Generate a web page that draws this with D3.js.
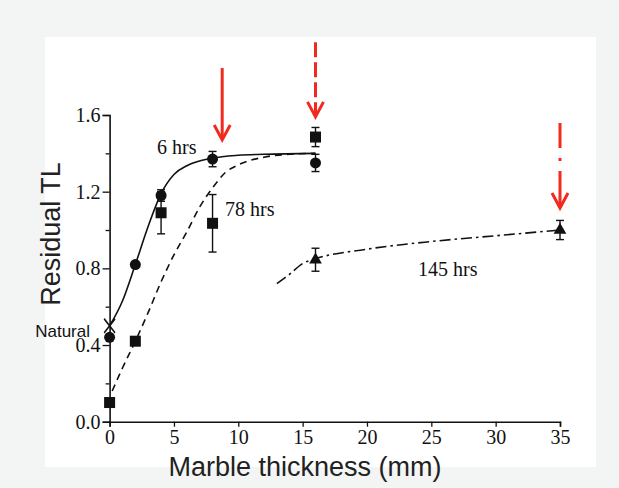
<!DOCTYPE html>
<html>
<head>
<meta charset="utf-8">
<script src="https://cdn.jsdelivr.net/npm/d3@7"></script>
<style>
  body { margin: 0; background: #f3f4f4; }
  svg { display: block; }
  .serif { font-family: "Liberation Serif", "Times New Roman", serif; }
  .sans { font-family: "Liberation Sans", Arial, sans-serif; }
</style>
</head>
<body>
<svg id="chart" width="619" height="488"></svg>
<script>
// measured points
var thick6 = [0, 2, 4, 8, 16];
var tl6 = [0.44, 0.82, 1.18, 1.37, 1.35];
var err6 = [0, 0, 0.03, 0.04, 0.045];

var thick78 = [0, 2, 4, 8, 16];
var tl78 = [0.10, 0.42, 1.09, 1.035, 1.485];
var err78 = [0, 0, 0.11, 0.15, 0.05];

var thick145 = [16, 35];
var tl145 = [0.845, 1.0];
var err145 = [0.06, 0.05];

var natural = { x: 0, y: 0.50 };

// fitted curves
var fit6x = [0, 1, 2, 3, 4, 5, 6, 8, 10, 12, 16];
var fit6y = [0.50, 0.63, 0.82, 1.02, 1.19, 1.29, 1.335, 1.375, 1.39, 1.395, 1.40];
var fit78x = [0.2, 1, 2, 3, 4, 5, 6, 7, 8, 9, 10, 12, 14, 16];
var fit78y = [0.16, 0.28, 0.42, 0.57, 0.73, 0.87, 0.99, 1.12, 1.22, 1.30, 1.34, 1.38, 1.395, 1.40];
var fit145x = [13, 14, 15, 16, 20, 25, 30, 35];
var fit145y = [0.72, 0.77, 0.825, 0.85, 0.90, 0.94, 0.97, 1.0];

var xTicks = [0, 5, 10, 15, 20, 25, 30, 35];
var yTicks = [0, 0.4, 0.8, 1.2, 1.6];
var yMinor = [0.2, 0.6, 1.0, 1.4];

// red arrows: x, top, tip, dash pattern
var arrowX = [8.75, 16, 35];
var arrowTop = [1.845, 1.98, 1.558];
var arrowTip = [1.47, 1.59, 1.115];
var arrowDash = [null, '15,5', '25,10,3,10,60'];

var svg = d3.select('#chart');

svg.append('rect')
	.attr('x', 45).attr('y', 37)
	.attr('width', 551).attr('height', 430)
	.attr('fill', '#fff');

var x = d3.scaleLinear().domain([0, 35]).range([109.6, 560]);
var y = d3.scaleLinear().domain([0, 1.6]).range([421.7, 115]);

// axes
var yAxis = svg.append('g')
	.attr('transform', 'translate(' + x(0) + ',0)')
	.call(d3.axisLeft(y).tickValues(yTicks).tickFormat(d3.format('.1f')).tickSize(7).tickPadding(2));
svg.append('g')
	.attr('transform', 'translate(' + x(0) + ',0)')
	.call(d3.axisLeft(y).tickValues(yMinor).tickFormat('').tickSize(4))
	.select('.domain').remove();
var xAxis = svg.append('g')
	.attr('transform', 'translate(0,' + y(0) + ')')
	.call(d3.axisBottom(x).tickValues(xTicks).tickSize(5).tickPadding(3));

svg.selectAll('.domain').attr('stroke', '#111').attr('stroke-width', 1.6);
svg.selectAll('.tick line').attr('stroke', '#111').attr('stroke-width', 1.3);
yAxis.selectAll('text').attr('class', 'serif').attr('font-size', 20).attr('fill', '#111');
xAxis.selectAll('text').attr('class', 'serif').attr('font-size', 20).attr('fill', '#111');

// fitted curves
var line = d3.line().x(d => x(d[0])).y(d => y(d[1])).curve(d3.curveMonotoneX);

svg.append('path')
	.datum(d3.zip(fit6x, fit6y))
	.attr('d', line)
	.attr('fill', 'none').attr('stroke', '#111').attr('stroke-width', 1.6);
svg.append('path')
	.datum(d3.zip(fit78x, fit78y))
	.attr('d', line)
	.attr('fill', 'none').attr('stroke', '#111').attr('stroke-width', 1.6)
	.attr('stroke-dasharray', '7,5');
svg.append('path')
	.datum(d3.zip(fit145x, fit145y))
	.attr('d', line)
	.attr('fill', 'none').attr('stroke', '#111').attr('stroke-width', 1.6)
	.attr('stroke-dasharray', '11,4,2.5,4');

// error bars
function errorBars(xs, ys, es) {
	var g = svg.append('g').attr('stroke', '#111').attr('stroke-width', 1.4);
	d3.zip(xs, ys, es).filter(d => d[2] > 0).forEach(d => {
		var cx = x(d[0]), top = y(d[1] + d[2]), bot = y(d[1] - d[2]);
		g.append('line').attr('x1', cx).attr('x2', cx).attr('y1', top).attr('y2', bot);
		g.append('line').attr('x1', cx - 4).attr('x2', cx + 4).attr('y1', top).attr('y2', top);
		g.append('line').attr('x1', cx - 4).attr('x2', cx + 4).attr('y1', bot).attr('y2', bot);
	});
}
errorBars(thick6, tl6, err6);
errorBars(thick78, tl78, err78);
errorBars(thick145, tl145, err145);

// markers
svg.append('g').selectAll('circle')
	.data(d3.zip(thick6, tl6))
	.enter().append('circle')
		.attr('cx', d => x(d[0])).attr('cy', d => y(d[1]))
		.attr('r', 5.5).attr('fill', '#111');

svg.append('g').selectAll('rect')
	.data(d3.zip(thick78, tl78))
	.enter().append('rect')
		.attr('x', d => x(d[0]) - 5.5).attr('y', d => y(d[1]) - 5.5)
		.attr('width', 11).attr('height', 11).attr('fill', '#111');

svg.append('g').selectAll('path')
	.data(d3.zip(thick145, tl145))
	.enter().append('path')
		.attr('transform', d => 'translate(' + x(d[0]) + ',' + y(d[1]) + ')')
		.attr('d', d3.symbol(d3.symbolTriangle, 70))
		.attr('fill', '#111');

svg.append('path')
	.attr('transform', 'translate(' + x(natural.x) + ',' + y(natural.y) + ') scale(1,1.3)')
	.attr('d', d3.symbol(d3.symbolX, 80))
	.attr('fill', 'none').attr('stroke', '#111').attr('stroke-width', 1.4);

// labels
svg.append('text').attr('class', 'serif').attr('x', 157).attr('y', 154)
	.attr('font-size', 20).attr('fill', '#111').text('6 hrs');
svg.append('text').attr('class', 'serif').attr('x', 225).attr('y', 216)
	.attr('font-size', 20).attr('fill', '#111').text('78 hrs');
svg.append('text').attr('class', 'serif').attr('x', 418).attr('y', 276)
	.attr('font-size', 20).attr('fill', '#111').text('145 hrs');
svg.append('text').attr('class', 'sans').attr('x', 90).attr('y', 337)
	.attr('text-anchor', 'end').attr('font-size', 17).attr('fill', '#111').text('Natural');

svg.append('text').attr('class', 'sans')
	.attr('x', 305).attr('y', 476)
	.attr('text-anchor', 'middle').attr('font-size', 27).attr('fill', '#222')
	.text('Marble thickness (mm)');
svg.append('text').attr('class', 'sans')
	.attr('transform', 'translate(60,234) rotate(-90)')
	.attr('text-anchor', 'middle').attr('font-size', 27).attr('fill', '#222')
	.text('Residual TL');

// red arrows
var red = '#f22a1e';
arrowX.forEach((ax, i) => {
	var cx = x(ax), top = y(arrowTop[i]), tip = y(arrowTip[i]);
	var shaft = svg.append('line')
		.attr('x1', cx).attr('x2', cx).attr('y1', top).attr('y2', tip - 2)
		.attr('stroke', red).attr('stroke-width', 3);
	if (arrowDash[i]) shaft.attr('stroke-dasharray', arrowDash[i]);
	svg.append('path')
		.attr('d', 'M' + (cx - 8) + ',' + (tip - 15) + 'L' + cx + ',' + tip + 'L' + (cx + 8) + ',' + (tip - 15))
		.attr('fill', 'none').attr('stroke', red).attr('stroke-width', 3)
		.attr('stroke-linejoin', 'miter');
});
</script>
</body>
</html>
